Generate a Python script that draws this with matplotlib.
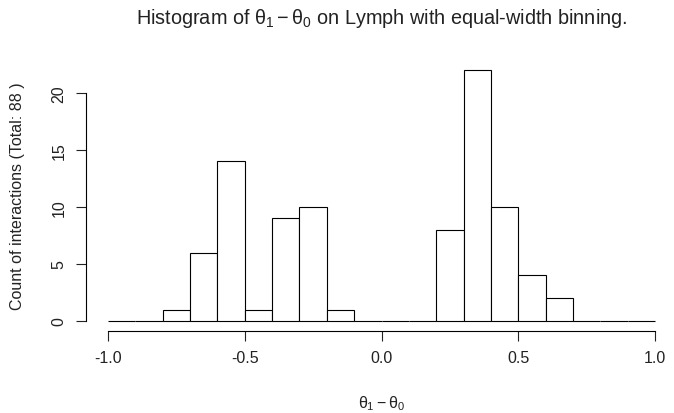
import matplotlib.pyplot as plt
import numpy as np

plt.rcParams['font.family'] = ['Liberation Sans', 'DejaVu Sans']
plt.rcParams['mathtext.fontset'] = 'custom'
plt.rcParams['mathtext.rm'] = 'Liberation Sans'
plt.rcParams['mathtext.it'] = 'Liberation Sans'

# bin edges (width 0.1 from -1 to 1) and counts per bin
bin_edges = np.round(np.arange(-1.0, 1.0001, 0.1), 2)
counts = [0, 0, 1, 6, 14, 1, 9, 10, 1, 0,
          0, 0, 8, 22, 10, 4, 2, 0, 0, 0]
total = sum(counts)

W, H = 674, 414
fig = plt.figure(figsize=(W / 100, H / 100), dpi=100)

# plot region in pixels (R style: 4% padding around the data range)
left, right, top, bottom = 86, 677, 61, 332
ax = fig.add_axes([left / W, 1 - bottom / H, (right - left) / W, (bottom - top) / H])

ax.bar(bin_edges[:-1], counts, width=0.1, align='edge',
       facecolor='white', edgecolor='black', linewidth=0.8)

ax.set_xlim(-1.08, 1.08)
ax.set_ylim(-0.88, 22.88)

for s in ['top', 'right']:
    ax.spines[s].set_visible(False)
ax.spines['left'].set_bounds(0, 20)
ax.spines['bottom'].set_bounds(-1, 1)
ax.spines['left'].set_linewidth(0.8)
ax.spines['bottom'].set_linewidth(0.8)

ax.set_xticks([-1.0, -0.5, 0.0, 0.5, 1.0])
ax.set_xticklabels(['-1.0', '-0.5', '0.0', '0.5', '1.0'])
ax.set_yticks([0, 5, 10, 15, 20])
ax.tick_params(axis='both', length=7, width=0.8, labelsize=11.5, colors='#222222')
ax.tick_params(axis='x', pad=7)
ax.tick_params(axis='y', pad=7)
for lab in ax.get_yticklabels():
    lab.set_rotation(90)
    lab.set_va('center')

fig.text((left + right) / 2 / W, 1 - 18 / H,
         r'Histogram of $\theta_1 - \theta_0$ on Lymph with equal-width binning.',
         ha='center', va='center', fontsize=14.3, color='#222222')
fig.text((left + right) / 2 / W, 1 - 404 / H, r'$\theta_1 - \theta_0$',
         ha='center', va='center', fontsize=11.5, color='#222222')
fig.text(18 / W, 1 - (top + bottom) / 2 / H, 'Count of interactions (Total: %d )' % total,
         ha='center', va='center', rotation=90, fontsize=11.5, color='#222222')

fig.savefig('out.png', dpi=100)
